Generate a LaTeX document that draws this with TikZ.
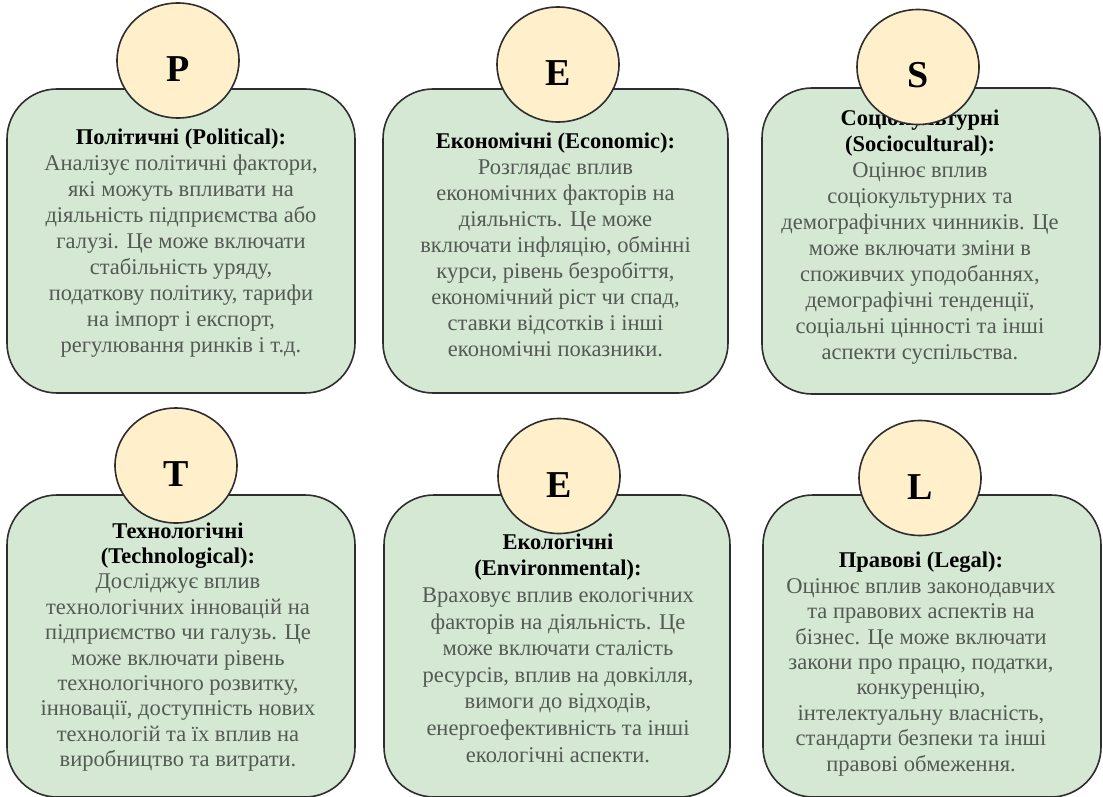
\documentclass[tikz,border=0pt]{standalone}
\usepackage{fontspec}
\usetikzlibrary{shapes.geometric}
\setmainfont{Liberation Serif}
\definecolor{boxfill}{HTML}{D5E8D4}
\definecolor{circfill}{HTML}{FFF0CB}
\definecolor{edge}{HTML}{2E2E2E}
\definecolor{bodytext}{HTML}{535A53}
\tikzset{
  factorbox/.style={draw=edge, line width=1.6pt, fill=boxfill, rounded corners=50pt,
    minimum width=346pt, inner sep=0pt},
  letter/.style={ellipse, draw=edge, line width=1.6pt, fill=circfill,
    minimum width=122pt, minimum height=115pt, text height=42pt, text depth=0pt,
    inner sep=0pt, font=\fontsize{38}{40}\selectfont\bfseries, text=black},
  desc/.style={align=center, inner sep=0pt, text=bodytext,
    font=\fontsize{22.5}{26}\selectfont},
}
\newcommand{\ttl}[1]{\textcolor{black}{\bfseries #1}}
\begin{document}
\begin{tikzpicture}[x=1pt,y=-1pt]
\useasboundingbox (0,0) rectangle (1103,797);
\fill[white] (0,0) rectangle (1103,797);

% top row boxes
\node[factorbox, minimum width=348pt, minimum height=304pt] (bP) at (181,241) {};
\node[factorbox, minimum width=345pt, minimum height=304pt] (bE) at (555.5,241) {};
\node[factorbox, minimum width=338pt, minimum height=306pt] (bS) at (931,241) {};
% bottom row boxes
\node[factorbox, minimum width=348pt, minimum height=302pt] (bT) at (181,646) {};
\node[factorbox, minimum width=346pt, minimum height=302pt] (bE2) at (557,646) {};
\node[factorbox, minimum width=338pt, minimum height=302pt] (bL) at (932,646) {};

% descriptions
\node[desc] (tP) at (181,243) {\ttl{Політичні (Political):}\\
Аналізує політичні фактори,\\ які можуть впливати на\\ діяльність підприємства або\\
галузі. Це може включати\\ стабільність уряду,\\ податкову політику, тарифи\\
на імпорт і експорт,\\ регулювання ринків і т.д.};
\node[desc] (tE) at (555.5,245) {\ttl{Економічні (Economic):}\\
Розглядає вплив\\ економічних факторів на\\ діяльність. Це може\\
включати інфляцію, обмінні\\ курси, рівень безробіття,\\ економічний ріст чи спад,\\
ставки відсотків і інші\\ економічні показники.};
\node[desc] (tS) at (920,237) {\ttl{Соціокультурні}\\ \ttl{(Sociocultural):}\\
Оцінює вплив\\ соціокультурних та\\ демографічних чинників. Це\\
може включати зміни в\\ споживчих уподобаннях,\\ демографічні тенденції,\\
соціальні цінності та інші\\ аспекти суспільства.};
\node[desc, font=\fontsize{22.5}{25.4}\selectfont] (tT) at (178,647) {\ttl{Технологічні}\\ \ttl{(Technological):}\\
Досліджує вплив\\ технологічних інновацій на\\ підприємство чи галузь. Це\\
може включати рівень\\ технологічного розвитку,\\ інновації, доступність нових\\
технологій та їх вплив на\\ виробництво та витрати.};
\node[desc, font=\fontsize{22.5}{26.6}\selectfont] (tE2) at (558,648) {\ttl{Екологічні}\\ \ttl{(Environmental):}\\
Враховує вплив екологічних\\ факторів на діяльність. Це\\ може включати сталість\\
ресурсів, вплив на довкілля,\\ вимоги до відходів,\\ енергоефективність та інші\\
екологічні аспекти.};
\node[desc, font=\fontsize{22.5}{25.4}\selectfont] (tL) at (921,664) {\ttl{Правові (Legal):}\\
Оцінює вплив законодавчих\\ та правових аспектів на\\ бізнес. Це може включати\\
закони про працю, податки,\\ конкуренцію,\\ інтелектуальну власність,\\
стандарти безпеки та інші\\ правові обмеження.};

% letter badges
\node[letter] (cP) at (178,60.5) {P};
\node[letter] (cE) at (558,64.5) {E};
\node[letter] (cS) at (918,67) {S};
\node[letter] (cT) at (176,465.5) {T};
\node[letter] (cE2) at (559,476) {E};
\node[letter] (cL) at (920,478) {L};
\end{tikzpicture}
\end{document}
